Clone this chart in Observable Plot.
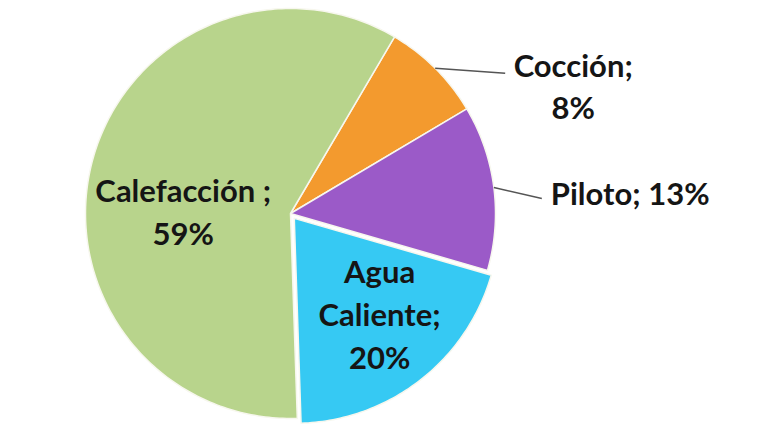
<!DOCTYPE html>
<html><head><meta charset="utf-8">
<script src="https://cdn.jsdelivr.net/npm/d3@7"></script>
<script src="https://cdn.jsdelivr.net/npm/@observablehq/plot@0.6"></script>
<style>html,body{margin:0;padding:0;background:#fff;}#chart svg{display:block;}</style>
</head><body><div id="chart"></div>
<script>
// Data
const categories = ["Cocción", "Piloto", "Agua Caliente", "Calefacción"];
const values = [8, 13, 20, 59];
const labels = ["Cocción;\n8%", "Piloto; 13%", "Agua\nCaliente;\n20%", "Calefacción ;\n59%"];
const colors = ["#f39a2e", "#9b5ac8", "#36c9f3", "#b8d48c"];

// Layout
const W = 768, H = 432, CX = 290, CY = 213, R = 205;
const startDeg = 30.5;
const explode = [0, 0, 0.03, 0];
const labelPos = [ // r along mid-angle, then pixel dx/dy
  {r: 1.0, dx: 138, dy: 16, anchor: "middle", leader: [70, 5]},
  {r: 1.0, dx: 57, dy: 4, anchor: "start", leader: [48, 11]},
  {r: 0.63, dx: 6, dy: -8, anchor: "middle"},
  {r: 0.55, dx: 2, dy: 24, anchor: "middle"}
];

const total = d3.sum(values);
const rad = d => d * Math.PI / 180;
let acc = startDeg;
const slices = categories.map((c, i) => {
  const a0 = acc, a1 = acc + values[i] / total * 360;
  acc = a1;
  const mid = (a0 + a1) / 2;
  const ox = explode[i] * Math.sin(rad(mid)), oy = explode[i] * Math.cos(rad(mid));
  return {c, i, a0, a1, mid, ox, oy};
});

const pts = [];
for (const s of slices) {
  pts.push({c: s.c, x: s.ox, y: s.oy});
  const n = Math.max(2, Math.ceil(s.a1 - s.a0));
  for (let k = 0; k <= n; k++) {
    const a = rad(s.a0 + (s.a1 - s.a0) * k / n);
    pts.push({c: s.c, x: s.ox + Math.sin(a), y: s.oy + Math.cos(a)});
  }
}

const textData = slices.map(s => {
  const L = labelPos[s.i];
  const a = rad(s.mid);
  return {
    label: labels[s.i], anchor: L.anchor,
    x: s.ox + L.r * Math.sin(a) + L.dx / R,
    y: s.oy + L.r * Math.cos(a) - L.dy / R
  };
});
const leaders = slices.filter(s => labelPos[s.i].leader).map(s => {
  const a = rad(s.mid), L = labelPos[s.i].leader;
  const x1 = s.ox + Math.sin(a), y1 = s.oy + Math.cos(a);
  return {x1, y1, x2: x1 + L[0] / R, y2: y1 - L[1] / R};
});

const chart = Plot.plot({
  width: W, height: H,
  marginTop: 0, marginRight: 0, marginBottom: 0, marginLeft: 0,
  x: {domain: [-CX / R, (W - CX) / R], axis: null},
  y: {domain: [-(H - CY) / R, CY / R], axis: null},
  color: {domain: categories, range: colors},
  style: {fontFamily: "Lato, 'Open Sans', sans-serif", background: "#fff"},
  marks: [
    Plot.line(pts, {x: "x", y: "y", z: "c", fill: "c", stroke: "#f7f7ee", strokeWidth: 1.5, curve: "linear-closed"}),
    Plot.link(leaders, {x1: "x1", y1: "y1", x2: "x2", y2: "y2", stroke: "#555", strokeWidth: 1.5}),
    Plot.text(textData.filter(d => d.anchor === "middle"), {x: "x", y: "y", text: "label", textAnchor: "middle", fontSize: 31, fontWeight: "bold", fill: "#151515", lineHeight: 1.38}),
    Plot.text(textData.filter(d => d.anchor === "start"), {x: "x", y: "y", text: "label", textAnchor: "start", fontSize: 31, fontWeight: "bold", fill: "#151515", lineHeight: 1.38})
  ]
});
document.getElementById("chart").appendChild(chart);
</script>
</body></html>
